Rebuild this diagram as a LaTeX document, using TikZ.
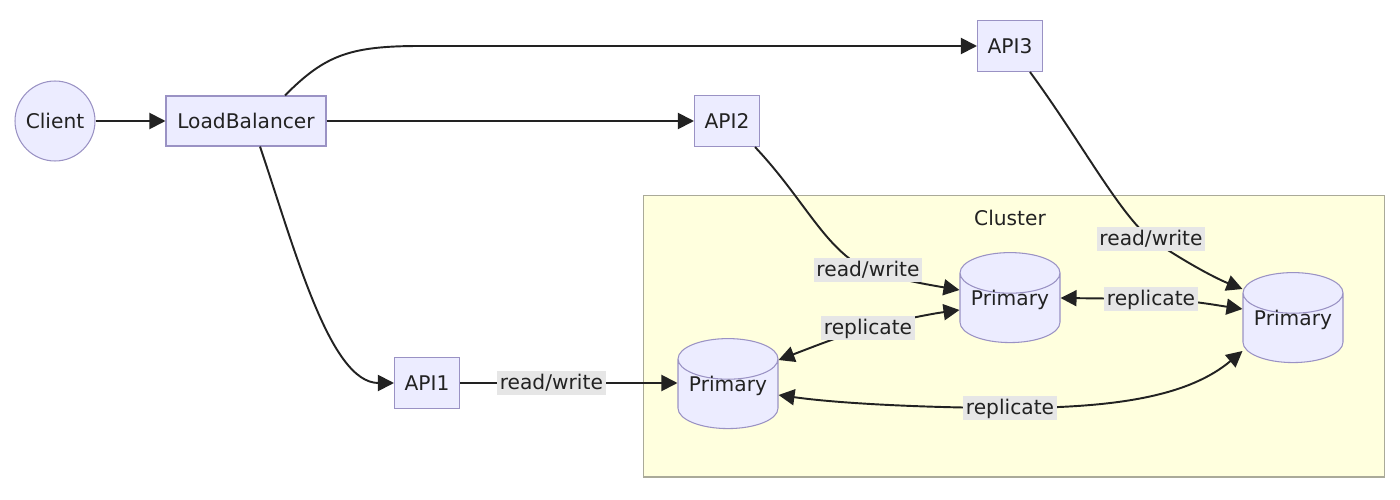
\documentclass[tikz,border=0pt]{standalone}
\usepackage{fontspec}
\setmainfont{DejaVu Sans}
\usetikzlibrary{arrows.meta,shapes.geometric}
\definecolor{nodefill}{HTML}{ECECFF}
\definecolor{nodeline}{HTML}{9A92C4}
\definecolor{clusterfill}{HTML}{FFFFDE}
\definecolor{clusterline}{HTML}{AAAA99}
\definecolor{edgecol}{HTML}{222222}
\definecolor{txt}{HTML}{222222}
\definecolor{lblbg}{HTML}{E6E6E6}
\newcommand{\dbtext}[1]{\raisebox{0.05cm}[0pt][0pt]{#1}}
\begin{document}
\begin{tikzpicture}[x=0.02cm,y=-0.02cm,
  font=\fontsize{11.5}{13}\selectfont, text=txt,
  box/.style={draw=nodeline, fill=nodefill, line width=0.6pt, minimum width=1.3cm, minimum height=1.02cm, inner sep=2pt},
  circ/.style={circle, draw=nodeline, fill=nodefill, line width=0.6pt, minimum size=1.6cm, inner sep=0pt},
  db/.style={cylinder, shape border rotate=90, aspect=0.52, draw=nodeline, fill=nodefill, line width=0.6pt, minimum width=2cm, minimum height=1.8cm, inner sep=0pt},
  clusterbox/.style={draw=clusterline, fill=clusterfill, line width=0.6pt, minimum width=14.84cm, minimum height=5.64cm},
  lbl/.style={fill=lblbg, inner sep=1.5pt, text depth=0.25ex},
  arr/.style={draw=edgecol, line width=1.1pt, -{Triangle[length=0.32cm,width=0.32cm]}},
  biarr/.style={draw=edgecol, line width=1.1pt, {Triangle[length=0.32cm,width=0.32cm]}-{Triangle[length=0.32cm,width=0.32cm]}}
]
\useasboundingbox (0,0) rectangle (1400,500);
\node[clusterbox] (cluster) at (1014,336) {};
\node (clusterlbl) at (1010,218) {Cluster};

\node[circ] (client) at (55,121) {Client};
\node[box, minimum width=3.2cm, minimum height=1cm] (lb) at (246,121) {LoadBalancer};
\node[box] (api3) at (1010,46) {API3};
\node[box] (api2) at (727,121) {API2};
\node[box] (api1) at (427,383) {API1};
\node[db] (p1) at (728,394) {\dbtext{Primary}};
\node[db] (p2) at (1010,308) {\dbtext{Primary}};
\node[db] (p3) at (1293,328) {\dbtext{Primary}};

\draw[arr] (client) -- (lb);
\draw[arr] (lb) -- (api2);
\draw[arr] ([xshift=0.78cm]lb.north) .. controls (325,55) and (350,46) .. (420,46) -- (api3);
\draw[arr] ([xshift=0.28cm]lb.south) .. controls (295,250) and (330,383) .. (api1.west);
\draw[arr] (api1.east) -- node[lbl, pos=0.42] {read/write} (api1.east -| p1.west);
\draw[arr] ([xshift=-0.1cm]api2.south east) .. controls (805,200) and (825,250) .. (868,270) node[lbl] {read/write} .. controls (900,280) and (930,285) .. ([yshift=0.36cm]p2.west);
\draw[arr] ([xshift=0.4cm]api3.south) .. controls (1080,140) and (1120,215) .. (1151,239) node[lbl] {read/write} .. controls (1185,262) and (1215,278) .. ([yshift=0.78cm]p3.west);
\draw[biarr] ([yshift=0.68cm]p1.east) .. controls (810,348) and (840,336) .. (868,328) node[lbl] {replicate} .. controls (900,320) and (930,314) .. ([yshift=-0.04cm]p2.west);
\draw[biarr] ([yshift=0.2cm]p2.east) -- (1151,299) node[lbl] {replicate} .. controls (1190,300) and (1215,305) .. ([yshift=0.38cm]p3.west);
\draw[biarr] ([yshift=-0.02cm]p1.east) .. controls (850,405) and (950,408) .. (1010,408) node[lbl] {replicate} .. controls (1120,408) and (1190,395) .. ([yshift=-0.46cm]p3.west);
\end{tikzpicture}
\end{document}
